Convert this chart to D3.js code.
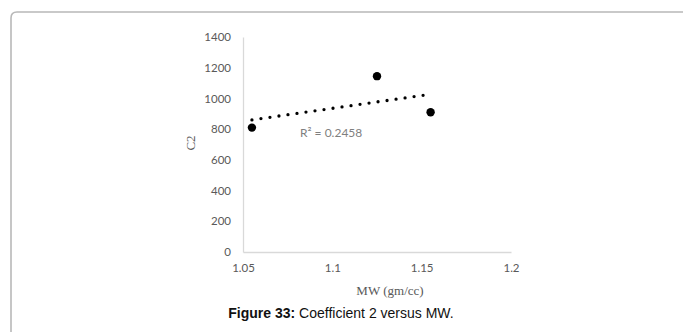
<!DOCTYPE html>
<html><head><meta charset="utf-8">
<script src="https://cdn.jsdelivr.net/npm/d3@7"></script>
<style>html,body{margin:0;padding:0;background:#fff;overflow:hidden}</style>
</head><body>
<svg id="c" width="683" height="332"></svg>
<script>
const mwValues = [1.055, 1.125, 1.155];
const c2Values = [810, 1145, 910];
const xTicks = [1.05, 1.1, 1.15, 1.2];
const yTicks = [0, 200, 400, 600, 800, 1000, 1200, 1400];
const r2Label = "R² = 0.2458";
const xTitle = "MW (gm/cc)";
const yTitle = "C2";
const captionBold = "Figure 33:";
const captionText = " Coefficient 2 versus MW.";

const svg = d3.select("#c");
// frame
svg.append("path")
  .attr("d", "M11,340 L11,18 Q11,12 17,12 L690,12")
  .attr("fill", "none").attr("stroke", "#b8b8b8").attr("stroke-width", 1.6);

const x = d3.scaleLinear().domain([1.05, 1.2]).range([243, 511]);
const y = d3.scaleLinear().domain([0, 1400]).range([252, 37]);

const tickFont = "Lato, 'Liberation Sans', Arial, sans-serif";
// axes
const gx = svg.append("g").attr("transform", `translate(0,${y(0)})`)
  .call(d3.axisBottom(x).tickValues(xTicks).tickSize(0).tickPadding(12).tickFormat(d3.format("")));
const gy = svg.append("g").attr("transform", `translate(${x(1.05)},0)`)
  .call(d3.axisLeft(y).tickValues(yTicks).tickSize(0).tickPadding(12).tickFormat(d3.format("d")));
[gx, gy].forEach(g => {
  g.select(".domain").attr("stroke", "#d9d9d9").attr("stroke-width", 1.3);
  g.selectAll("text").attr("fill", "#595959").style("font-family", tickFont).style("font-size", "11.5px");
});

// trendline (least squares)
const n = mwValues.length;
const mx = d3.mean(mwValues), my = d3.mean(c2Values);
let sxy = 0, sxx = 0;
for (let i = 0; i < n; i++) { sxy += (mwValues[i]-mx)*(c2Values[i]-my); sxx += (mwValues[i]-mx)**2; }
const slope = sxy / sxx, icpt = my - slope * mx;
const x0 = d3.min(mwValues), x1 = d3.max(mwValues);
svg.append("line")
  .attr("x1", x(x0)).attr("y1", y(icpt + slope*x0))
  .attr("x2", x(x1)).attr("y2", y(icpt + slope*x1))
  .attr("stroke", "#000").attr("stroke-width", 3.3)
  .attr("stroke-linecap", "round").attr("stroke-dasharray", "0 9.1");

// points
svg.selectAll("circle.pt").data(mwValues).join("circle")
  .attr("class", "pt")
  .attr("cx", d => x(d)).attr("cy", (d, i) => y(c2Values[i])).attr("r", 4.2).attr("fill", "#000");

// R2 label
svg.append("text").attr("x", 300).attr("y", 137).text(r2Label)
  .attr("fill", "#7f7f7f").style("font-family", tickFont).style("font-size", "12px");

// titles
svg.append("text").attr("transform", "translate(195,143) rotate(-90)")
  .attr("text-anchor", "middle").text(yTitle)
  .attr("fill", "#595959").style("font-family", "'Liberation Serif', 'Times New Roman', serif").style("font-size", "13px");
svg.append("text").attr("x", 390).attr("y", 295).attr("text-anchor", "middle").text(xTitle)
  .attr("fill", "#595959").style("font-family", "'Liberation Serif', 'Times New Roman', serif").style("font-size", "13px");

const cap = svg.append("text").attr("x", 341).attr("y", 318).attr("text-anchor", "middle")
  .style("font-family", "'Liberation Sans', Arial, sans-serif").style("font-size", "14px").attr("fill", "#111");
cap.append("tspan").attr("font-weight", "bold").text(captionBold);
cap.append("tspan").text(captionText);
</script>
</body></html>
